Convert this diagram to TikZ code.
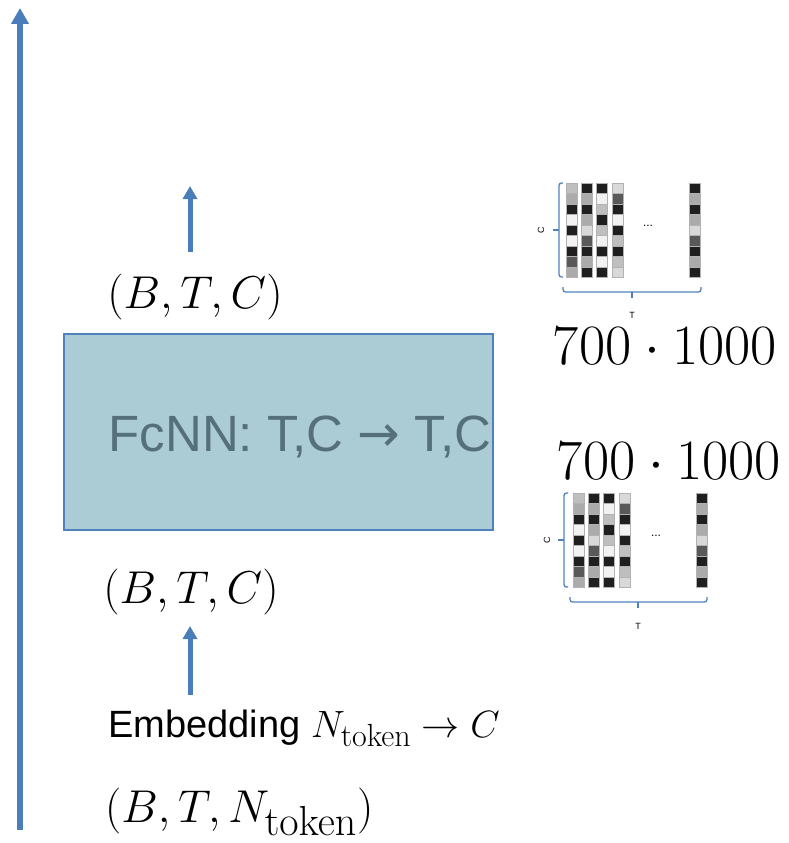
\RequirePackage{fix-cm}
\documentclass[tikz,border=0pt]{standalone}
\usepackage[no-math]{fontspec}
\setmainfont{Liberation Sans}
\newfontfamily\arrowfont{DejaVu Sans}
\usetikzlibrary{arrows.meta}
\definecolor{arrowblue}{HTML}{4A7EBB}
\definecolor{boxfill}{HTML}{ABCCD5}
\definecolor{boxline}{HTML}{4F81BD}
\definecolor{boxtext}{HTML}{56707B}
\colorlet{cK}{black!88}
\colorlet{cD}{black!65}
\colorlet{cG}{black!33}
\colorlet{cL}{black!25}
\colorlet{cM}{black!15}
\colorlet{cW}{black!5}
\newcommand{\tokensub}[1]{\hbox{\fontsize{#1}{#1}\selectfont$\mathrm{token}$}}
\newcommand{\matcolumn}[3]{%
  \foreach \cc [count=\ii from 0] in {#3}
    \filldraw[fill=\cc, draw=black!30, line width=0.6pt] (#1,#2+\ii*10.5) rectangle ++(11,10.5);
}
\newcommand{\tokenmatrix}[2]{% x of first column, top y
  \begin{scope}[shift={(#1,#2)}]
    \matcolumn{0}{0}{cL,cG,cK,cW,cK,cW,cK,cD,cG}
    \matcolumn{15}{0}{cK,cG,cK,cG,cM,cD,cK,cG,cK}
    \matcolumn{30}{0}{cK,cW,cL,cK,cL,cW,cK,cW,cK}
    \matcolumn{46}{0}{cM,cD,cK,cW,cK,cL,cK,cL,cM}
    \matcolumn{123}{0}{cK,cG,cK,cG,cM,cD,cK,cG,cK}
  \end{scope}
}
\tikzset{
  bigarrow/.style={arrowblue, line width=6pt, -{Triangle[width=17pt,length=16pt]}},
  smallarrow/.style={arrowblue, line width=5pt, -{Triangle[width=14pt,length=13pt]}},
  mathlabel/.style={inner sep=0pt, font=\fontsize{46}{50}\selectfont},
  numlabel/.style={inner sep=0pt, font=\fontsize{57}{60}\selectfont},
  smalllabel/.style={inner sep=0pt, font=\fontsize{9}{10}\selectfont},
  bracepath/.style={boxline, line width=1.3pt, rounded corners=2.5pt},
}
\begin{document}
\begin{tikzpicture}[x=1pt,y=-1pt]
\useasboundingbox (0,0) rectangle (789,843);

% long arrow on the left
\coordinate (bigS) at (20,830);
\coordinate (bigE) at (20,8);
\draw[bigarrow] (bigS) -- (bigE);

% FcNN box
\node[draw=boxline, fill=boxfill, line width=1.2pt, minimum width=429pt, minimum height=196pt, inner sep=0pt] (fcnn) at (278.5,432) {};
\node[inner sep=0pt, text=boxtext, font=\fontsize{51}{56}\selectfont] (fcnnlabel) at (300,437) {FcNN: T,C {\arrowfont →} T,C};

% shapes above and below
\node[mathlabel] (outshape) at (195,297) {$(B,T,C)$};
\node[mathlabel] (inshape) at (191,592) {$(B,T,C)$};
\node[mathlabel, anchor=west] (rawshape) at (105,812) {$(B,T,N_{\tokensub{42}})$};
\node[inner sep=0pt, anchor=west, font=\fontsize{38}{44}\selectfont] (embed) at (108,728) {Embedding $N_{\tokensub{32}}\rightarrow C$};

% small arrows
\coordinate (upS) at (190,252);
\coordinate (upE) at (190,186);
\draw[smallarrow] (upS) -- (upE);
\coordinate (loS) at (190,695);
\coordinate (loE) at (190,626);
\draw[smallarrow] (loS) -- (loE);

% size labels
\node[numlabel] (sizeA) at (665,346) {$700\cdot 1000$};
\node[numlabel] (sizeB) at (669,461) {$700\cdot 1000$};

% top matrix
\tokenmatrix{566}{183}
\draw[bracepath] (563,183) -- (559,183) -- (559,277) -- (563,277);
\draw[boxline, line width=1.3pt] (559,230) -- (553,230);
\node[smalllabel, rotate=90] (cA) at (541,230) {C};
\node[inner sep=0pt, font=\fontsize{12}{12}\selectfont] (dotsA) at (648,226) {...};
\draw[bracepath] (563,287) -- (563,292) -- (701,292) -- (701,287);
\draw[boxline, line width=1.3pt] (632,292) -- (632,298);
\node[smalllabel] (tA) at (632,315) {T};

% bottom matrix
\tokenmatrix{573}{493}
\draw[bracepath] (568,493) -- (564,493) -- (564,587) -- (568,587);
\draw[boxline, line width=1.3pt] (564,540) -- (558,540);
\node[smalllabel, rotate=90] (cB) at (547,540) {C};
\node[inner sep=0pt, font=\fontsize{12}{12}\selectfont] (dotsB) at (656,536) {...};
\draw[bracepath] (570,597) -- (570,602) -- (707,602) -- (707,597);
\draw[boxline, line width=1.3pt] (638,602) -- (638,608);
\node[smalllabel] (tB) at (638,626) {T};
\end{tikzpicture}
\end{document}
